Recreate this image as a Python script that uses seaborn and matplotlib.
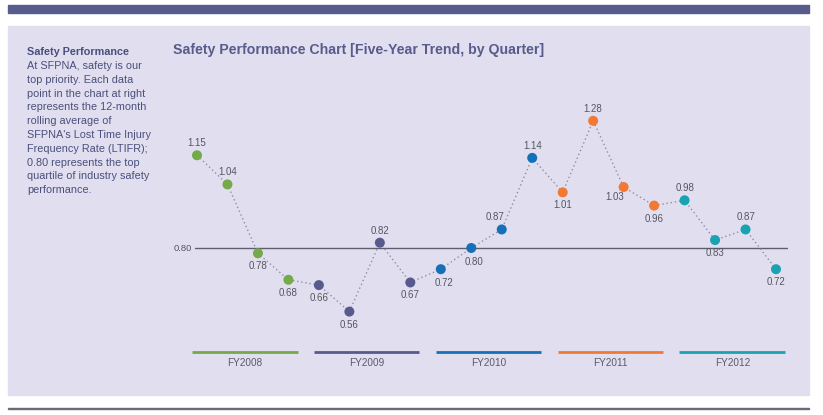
import pandas as pd
import seaborn as sns
import matplotlib.pyplot as plt
from matplotlib.patches import Rectangle

# datos del grafico (LTIFR trimestral)
years = ['FY2008', 'FY2009', 'FY2010', 'FY2011', 'FY2012']
quarters = ['Q1', 'Q2', 'Q3', 'Q4']
fy2008 = [1.15, 1.04, 0.78, 0.68]
fy2009 = [0.66, 0.56, 0.82, 0.67]
fy2010 = [0.72, 0.80, 0.87, 1.14]
fy2011 = [1.01, 1.28, 1.03, 0.96]
fy2012 = [0.98, 0.83, 0.87, 0.72]
benchmark = 0.80
# donde va la etiqueta de cada punto
label_pos = ['above', 'above', 'below', 'below',
             'below', 'below', 'above', 'below',
             'belowright', 'belowright', 'aboveleft', 'above',
             'below', 'above', 'belowleft', 'below',
             'above', 'below', 'above', 'below']
colores = ['#74aa48', '#585a8e', '#1570b8', '#f07a33', '#1aa2b2']

side_title = 'Safety Performance'
side_lines = ['At SFPNA, safety is our', 'top priority. Each data',
              'point in the chart at right', 'represents the 12-month',
              'rolling average of', "SFPNA's Lost Time Injury",
              'Frequency Rate (LTIFR);', '0.80 represents the top',
              'quartile of industry safety', 'performance.']
chart_title = 'Safety Performance Chart [Five-Year Trend, by Quarter]'

series = [fy2008, fy2009, fy2010, fy2011, fy2012]
df = pd.DataFrame({
    'year': [y for y in years for _ in quarters],
    'quarter': [q for _ in years for q in quarters],
    'ltifr': [v for s in series for v in s],
})
df['idx'] = range(len(df))
df['pos'] = label_pos

sns.set_theme(style='white')
plt.rcParams['font.family'] = ['Liberation Sans', 'DejaVu Sans']

W, H = 823, 415
fig = plt.figure(figsize=(W / 100, H / 100), dpi=100)
fig.patch.set_facecolor('white')

# fondo y barras decorativas (en pixeles)
def px_rect(x0, y0, x1, y1, color):
    fig.patches.append(Rectangle((x0 / W, 1 - y1 / H), (x1 - x0) / W, (y1 - y0) / H,
                                 transform=fig.transFigure, color=color, zorder=-5))

px_rect(8, 5, 809, 13, '#585c8c')
px_rect(8, 26, 809, 395, '#e1dfef')
px_rect(8, 407.5, 809, 408.5, '#6a6a78')

# texto lateral
fig.text(27 / W, 1 - 52 / H, side_title, fontsize=7.8, fontweight='bold',
         color='#4a4f7c', va='center')
for i, line in enumerate(side_lines):
    fig.text(27 / W, 1 - (66 + i * 13.8) / H, line, fontsize=7.8, color='#4a4f7c', va='center')

fig.text(173 / W, 1 - 50 / H, chart_title, fontsize=10.2, fontweight='bold',
         color='#585c8c', va='center')

# ejes: indice 0 -> x=197px, indice 19 -> x=776px ; 0.80 -> y=248px
step = (776 - 197) / 19
ppu = 265.0
ax_x0, ax_x1 = 150, 800
ax_y0, ax_y1 = 80, 390
ax = fig.add_axes([ax_x0 / W, 1 - ax_y1 / H, (ax_x1 - ax_x0) / W, (ax_y1 - ax_y0) / H])
ax.set_xlim((ax_x0 - 197) / step, 19 + (ax_x1 - 776) / step)
ax.set_ylim(benchmark - (ax_y1 - 248) / ppu, benchmark + (248 - ax_y0) / ppu)
ax.set_facecolor('none')
ax.axis('off')

# linea de referencia
ax.plot([-0.05, 19.35], [benchmark, benchmark], color='#5e5e6e', lw=1, zorder=1)
ax.text(-0.15, benchmark, f'{benchmark:.2f}', fontsize=6.8, color='#55556a',
        ha='right', va='center')

# linea punteada y puntos
sns.lineplot(data=df, x='idx', y='ltifr', ax=ax, color='#8f8fa0', lw=1,
             linestyle=(0, (1, 2)), zorder=2, legend=False)
sns.scatterplot(data=df, x='idx', y='ltifr', hue='year', palette=colores, ax=ax,
                s=52, edgecolor='none', zorder=3, legend=False)

# desplazamientos de etiqueta en pixeles
offsets = {'above': (0, 12), 'below': (0, -13), 'belowright': (3, -14),
           'aboveleft': (-7, 12), 'belowleft': (-9, -10)}
for _, r in df.iterrows():
    dx, dy = offsets[r['pos']]
    ax.annotate(f"{r['ltifr']:.2f}", (r['idx'], r['ltifr']), xytext=(dx * 0.72, dy * 0.72),
                textcoords='offset points', ha='center', va='center', fontsize=7,
                color='#555560')

# leyenda por anio
y_leg = benchmark - (352 - 248) / ppu
for i, (yr, c) in enumerate(zip(years, colores)):
    x0, x1 = 4 * i - 0.17, 4 * i + 3.3
    ax.plot([x0, x1], [y_leg, y_leg], color=c, lw=2, solid_capstyle='butt')
    ax.text((x0 + x1) / 2, y_leg - 11 / ppu, yr, fontsize=7.2, color='#5a5a6a',
            ha='center', va='center')

plt.savefig('out.png', dpi=100)
